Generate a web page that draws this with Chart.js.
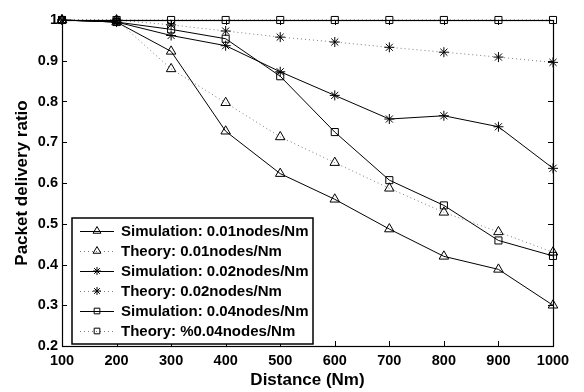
<!DOCTYPE html>
<html>
<head>
<meta charset="utf-8">
<script src="https://cdn.jsdelivr.net/npm/chart.js@4.4.1/dist/chart.umd.min.js"></script>
<style>
  html, body { margin: 0; padding: 0; background: #fff; }
  #wrap { width: 584px; height: 392px; }
</style>
</head>
<body>
<div id="wrap"><canvas id="pdr" width="584" height="392"></canvas></div>
<script>
const distances = [100, 200, 300, 400, 500, 600, 700, 800, 900, 1000];
const sim001 = [1, 0.995, 0.923, 0.727, 0.623, 0.560, 0.487, 0.420, 0.388, 0.300];
const theo001 = [1, 1, 0.880, 0.797, 0.713, 0.650, 0.587, 0.528, 0.480, 0.430];
const sim002 = [1, 0.995, 0.962, 0.937, 0.873, 0.815, 0.757, 0.765, 0.738, 0.636];
const theo002 = [1, 1, 0.988, 0.973, 0.958, 0.946, 0.933, 0.921, 0.909, 0.896];
const sim004 = [1, 0.995, 0.977, 0.954, 0.862, 0.725, 0.607, 0.545, 0.459, 0.421];
const theo004 = [1, 1, 1, 1, 1, 1, 1, 1, 1, 1];
const yTicks = [0.2, 0.3, 0.4, 0.5, 0.6, 0.7, 0.8, 0.9, 1];

const FONT = "'Liberation Sans', Arial, sans-serif";
const DOT = "#7a7a7a";

function pts(vals) {
  return vals.map((v, i) => ({ x: distances[i], y: v }));
}

function markerSize(style) {
  if (style === "rect") return 5;
  if (style === "star") return 5;
  return 5.5;
}

function series(label, vals, style, dotted) {
  return {
    label,
    data: pts(vals),
    borderColor: dotted ? DOT : "#000",
    borderWidth: 1,
    borderDash: dotted ? [1, 3] : [],
    pointStyle: style,
    pointRadius: markerSize(style),
    pointBorderColor: "#000",
    pointBackgroundColor: "rgba(0,0,0,0)",
    pointBorderWidth: 1,
    tension: 0,
    clip: false,
  };
}

const datasets = [
  series("Simulation: 0.01nodes/Nm", sim001, "triangle", false),
  series("Theory: 0.01nodes/Nm", theo001, "triangle", true),
  series("Simulation: 0.02nodes/Nm", sim002, "star", false),
  series("Theory: 0.02nodes/Nm", theo002, "star", true),
  series("Simulation: 0.04nodes/Nm", sim004, "rect", false),
  series("Theory: %0.04nodes/Nm", theo004, "rect", true),
];

// box frame with inward tick marks on all four sides
const frame = {
  id: "frame",
  afterDatasetsDraw(chart) {
    const { ctx, chartArea: a, scales } = chart;
    ctx.save();
    ctx.strokeStyle = "#000";
    ctx.lineWidth = 1;
    ctx.beginPath();
    scales.x.ticks.forEach((t) => {
      const px = Math.round(scales.x.getPixelForValue(t.value)) + 0.5;
      ctx.moveTo(px, a.bottom); ctx.lineTo(px, a.bottom - 5);
      ctx.moveTo(px, a.top); ctx.lineTo(px, a.top + 5);
    });
    scales.y.ticks.forEach((t) => {
      const py = Math.round(scales.y.getPixelForValue(t.value)) + 0.5;
      ctx.moveTo(a.left, py); ctx.lineTo(a.left + 5, py);
      ctx.moveTo(a.right, py); ctx.lineTo(a.right - 5, py);
    });
    ctx.stroke();
    ctx.lineWidth = 1.2;
    ctx.strokeRect(Math.round(a.left) + 0.5, Math.round(a.top) + 0.5,
      Math.round(a.right - a.left), Math.round(a.bottom - a.top));
    ctx.restore();
  },
};

// legend: line segment with centred marker, then label
const boxLegend = {
  id: "boxLegend",
  afterDraw(chart) {
    const { ctx } = chart;
    const x0 = 72, y0 = 218, w = 241, h = 126;
    ctx.save();
    ctx.fillStyle = "#fff";
    ctx.fillRect(x0, y0, w, h);
    ctx.strokeStyle = "#000";
    ctx.lineWidth = 1.5;
    ctx.strokeRect(x0, y0, w, h);
    ctx.font = "bold 15px " + FONT;
    ctx.textBaseline = "middle";
    chart.data.datasets.forEach((ds, i) => {
      const y = 231 + i * 20;
      ctx.strokeStyle = ds.borderColor;
      ctx.lineWidth = 1;
      ctx.setLineDash(ds.borderDash);
      ctx.beginPath();
      ctx.moveTo(80, y + 0.5);
      ctx.lineTo(114, y + 0.5);
      ctx.stroke();
      ctx.setLineDash([]);
      ctx.strokeStyle = "#000";
      ctx.fillStyle = "rgba(0,0,0,0)";
      Chart.helpers.drawPoint(ctx, {
        pointStyle: ds.pointStyle,
        radius: ds.pointStyle === "triangle" ? 4.5 : 4,
        borderWidth: 1,
        rotation: 0,
      }, 97, y);
      ctx.fillStyle = "#000";
      ctx.fillText(ds.label, 121, y + 1);
    });
    ctx.restore();
  },
};

new Chart(document.getElementById("pdr"), {
  type: "line",
  data: { datasets },
  plugins: [frame, boxLegend],
  options: {
    responsive: false,
    animation: false,
    layout: { padding: { left: 0, right: 31, top: 20, bottom: 0 } },
    plugins: { legend: { display: false }, tooltip: { enabled: false } },
    scales: {
      x: {
        type: "linear",
        min: 100,
        max: 1000,
        border: { display: false },
        grid: { display: false, drawTicks: false },
        ticks: {
          stepSize: 100,
          padding: 6,
          color: "#000",
          font: { family: FONT, size: 14.5, weight: "bold" },
          callback: (v) => String(v),
        },
        title: {
          display: true,
          text: "Distance (Nm)",
          color: "#000",
          padding: { top: 0, bottom: 1 },
          font: { family: FONT, size: 17, weight: "bold" },
        },
        afterFit(scale) { scale.height = 46; },
      },
      y: {
        type: "linear",
        min: 0.2,
        max: 1,
        border: { display: false },
        grid: { display: false, drawTicks: false },
        afterBuildTicks(scale) { scale.ticks = yTicks.map((v) => ({ value: v })); },
        ticks: {
          padding: 4,
          color: "#000",
          font: { family: FONT, size: 14.5, weight: "bold" },
          callback: (v) => (v === 1 ? "1" : v.toFixed(1)),
        },
        title: {
          display: true,
          text: "Packet delivery ratio",
          color: "#000",
          padding: { top: 12, bottom: 0 },
          font: { family: FONT, size: 17, weight: "bold" },
        },
        afterFit(scale) { scale.width = 62; },
      },
    },
  },
});
</script>
</body>
</html>
